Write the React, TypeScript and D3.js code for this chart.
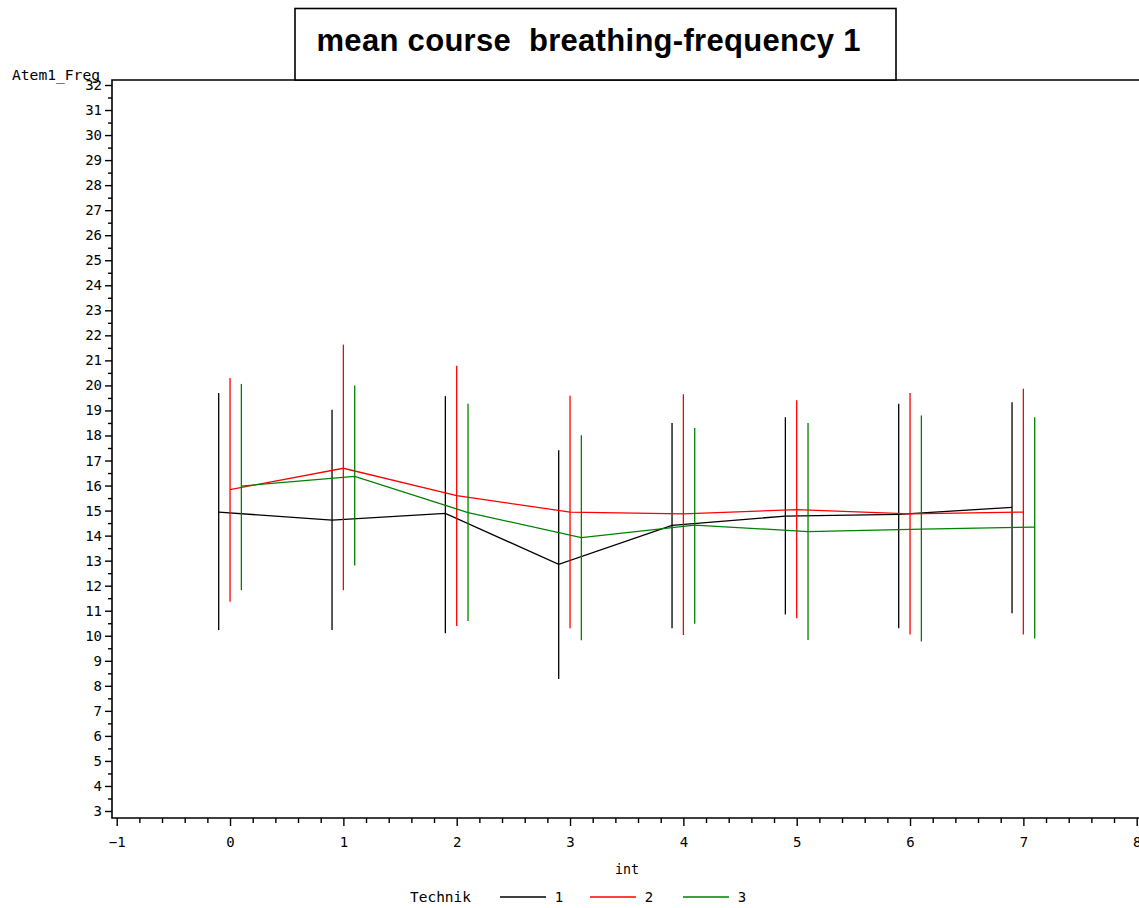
import * as d3 from "d3";
import { useEffect, useRef } from "react";

// x categories (int) and the three Technik groups
const ints = [0, 1, 2, 3, 4, 5, 6, 7];
const techniks = ["1", "2", "3"];

// Technik 1
const mean1 = [14.94, 14.62, 14.89, 12.85, 14.41, 14.78, 14.85, 15.13];
const low1 = [10.23, 10.23, 10.1, 8.27, 10.3, 10.85, 10.3, 10.9];
const high1 = [19.7, 19.03, 19.57, 17.41, 18.5, 18.73, 19.27, 19.33];

// Technik 2
const mean2 = [15.84, 16.69, 15.6, 14.94, 14.87, 15.04, 14.87, 14.94];
const low2 = [11.36, 11.82, 10.39, 10.3, 10.03, 10.7, 10.05, 10.05];
const high2 = [20.3, 21.63, 20.79, 19.59, 19.65, 19.41, 19.7, 19.87];

// Technik 3
const mean3 = [15.98, 16.37, 14.92, 13.92, 14.42, 14.16, 14.26, 14.34];
const low3 = [11.82, 12.81, 10.59, 9.82, 10.48, 9.83, 9.77, 9.89];
const high3 = [20.06, 20.0, 19.27, 18.01, 18.3, 18.5, 18.8, 18.73];

const xTicks = [-1, 0, 1, 2, 3, 4, 5, 6, 7, 8];
const yTicks = d3.range(3, 33);

const title = "mean course  breathing-frequency 1";

const App = () => {
  const ref = useRef<SVGSVGElement>(null);
  const width = 1139;
  const height = 908;

  useEffect(() => {
    const svg = d3.select(ref.current);
    svg.selectAll("*").remove();

    const mono = "'DejaVu Sans Mono', monospace";
    const colors = ["#000000", "#ff0000", "#008000"];
    const offsets = [-0.1, 0, 0.1];
    const series = [
      { mean: mean1, low: low1, high: high1 },
      { mean: mean2, low: low2, high: high2 },
      { mean: mean3, low: low3, high: high3 },
    ];

    const x = d3.scaleLinear().domain([-1, 8]).range([116.7, 1136.7]);
    const y = d3.scaleLinear().domain([3, 32]).range([811, 85]);

    const frame = { left: 112, top: 80, bottom: 818 };

    svg
      .append("rect")
      .attr("x", 0)
      .attr("y", 0)
      .attr("width", width)
      .attr("height", height)
      .attr("fill", "white");

    // frame
    svg
      .append("path")
      .attr("d", `M${width + 5},${frame.top}H${frame.left}V${frame.bottom}H${width + 5}`)
      .attr("fill", "none")
      .attr("stroke", "#000")
      .attr("stroke-width", 1.6);

    // y axis: major + minor
    const yAxis = svg.append("g").attr("transform", `translate(${frame.left},0)`);
    yAxis
      .append("g")
      .call(
        d3
          .axisLeft(y)
          .tickValues(yTicks.slice(0, -1).map((d) => d + 0.5))
          .tickSize(4)
          .tickFormat(() => "")
      );
    yAxis
      .append("g")
      .call(d3.axisLeft(y).tickValues(yTicks).tickSize(7).tickPadding(3).tickFormat(d3.format("d")));
    yAxis.selectAll(".domain").remove();
    yAxis.selectAll("line").attr("stroke", "#000").attr("stroke-width", 1.4);
    yAxis
      .selectAll("text")
      .attr("font-family", mono)
      .attr("font-size", 14)
      .attr("fill", "#000");

    // x axis: major + minor
    const xAxis = svg.append("g").attr("transform", `translate(0,${frame.bottom})`);
    xAxis
      .append("g")
      .call(
        d3
          .axisBottom(x)
          .tickValues(d3.range(-1, 8, 0.2).filter((d) => Math.abs(d - Math.round(d)) > 0.01))
          .tickSize(5)
          .tickFormat(() => "")
      );
    xAxis
      .append("g")
      .call(d3.axisBottom(x).tickValues(xTicks).tickSize(8).tickPadding(11).tickFormat(d3.format("d")));
    xAxis.selectAll(".domain").remove();
    xAxis.selectAll("line").attr("stroke", "#000").attr("stroke-width", 1.4);
    xAxis
      .selectAll("text")
      .attr("font-family", mono)
      .attr("font-size", 14)
      .attr("fill", "#000");

    // axis labels
    svg
      .append("text")
      .attr("x", 12)
      .attr("y", 80)
      .attr("font-family", mono)
      .attr("font-size", 14)
      .attr("textLength", 88)
      .attr("lengthAdjust", "spacingAndGlyphs")
      .text("Atem1_Freg");

    svg
      .append("text")
      .attr("x", 615)
      .attr("y", 874)
      .attr("font-family", mono)
      .attr("font-size", 14)
      .attr("textLength", 24)
      .attr("lengthAdjust", "spacingAndGlyphs")
      .text("int");

    // series: error bars + mean lines
    series.forEach((s, si) => {
      const g = svg.append("g");
      const xs = (i: number) => x(ints[i] + offsets[si]);

      g.selectAll("line")
        .data(ints)
        .join("line")
        .attr("x1", (_, i) => xs(i))
        .attr("x2", (_, i) => xs(i))
        .attr("y1", (_, i) => y(s.low[i]))
        .attr("y2", (_, i) => y(s.high[i]))
        .attr("stroke", colors[si])
        .attr("stroke-width", 1.3);

      const line = d3
        .line<number>()
        .x((_, i) => xs(i))
        .y((d) => y(d));

      g.append("path")
        .attr("d", line(s.mean))
        .attr("fill", "none")
        .attr("stroke", colors[si])
        .attr("stroke-width", 1.3);
    });

    // legend
    svg
      .append("text")
      .attr("x", 410)
      .attr("y", 902)
      .attr("font-family", mono)
      .attr("font-size", 14)
      .attr("textLength", 61)
      .attr("lengthAdjust", "spacingAndGlyphs")
      .text("Technik");

    const legendX = [500, 590, 683];
    techniks.forEach((t, i) => {
      svg
        .append("line")
        .attr("x1", legendX[i])
        .attr("x2", legendX[i] + 46)
        .attr("y1", 897)
        .attr("y2", 897)
        .attr("stroke", colors[i])
        .attr("stroke-width", 1.3);
      svg
        .append("text")
        .attr("x", legendX[i] + 59)
        .attr("y", 902)
        .attr("text-anchor", "middle")
        .attr("font-family", mono)
        .attr("font-size", 14)
        .text(t);
    });

    // title box
    svg
      .append("rect")
      .attr("x", 295)
      .attr("y", 8.5)
      .attr("width", 601)
      .attr("height", 71.5)
      .attr("fill", "white")
      .attr("stroke", "#000")
      .attr("stroke-width", 1.6);

    svg
      .append("text")
      .attr("x", 316.5)
      .attr("y", 50.5)
      .attr("font-family", "'Liberation Sans', Arial, sans-serif")
      .attr("font-weight", "bold")
      .attr("font-size", 31)
      .attr("textLength", 544)
      .style("white-space", "pre")
      .text(title);
  }, []);

  return (
    <div style={{ position: "absolute", left: 0, top: 0 }}>
      <svg ref={ref} width={width} height={height} style={{ display: "block" }}></svg>
    </div>
  );
};

export default App;
